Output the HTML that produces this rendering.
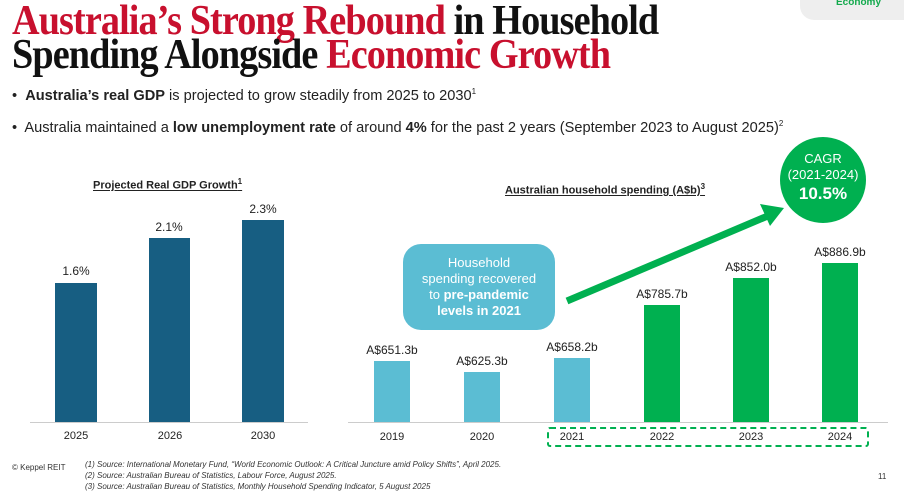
<!DOCTYPE html>
<html><head><meta charset="utf-8"><style>
body{margin:0;width:904px;height:498px;overflow:hidden;background:#fff;font-family:"Liberation Sans",sans-serif;position:relative}
.a{position:absolute;white-space:nowrap}
.t{font-family:"Liberation Serif",serif;font-size:42px;font-weight:bold;letter-spacing:-1px;color:#111;left:12px;line-height:36px;transform:scaleX(0.91);transform-origin:0 0}
.r{color:#c8102e}
.b{font-size:14.6px;color:#222;left:12px}
.lbl{font-size:12px;color:#222;text-align:center;width:80px}
.yr{font-size:11px;color:#222;text-align:center;width:60px}
sup{font-size:8px}
</style></head><body>
<div class="a" style="left:800px;top:0;width:104px;height:20px;background:#eee;border-bottom-left-radius:14px"></div>
<div class="a" style="left:836px;top:-3px;font-size:10px;color:#12a94c;font-weight:bold">Economy</div>
<div class="a t" style="top:3px"><span class="r">Australia’s Strong Rebound</span> in Household</div>
<div class="a t" style="top:37px">Spending Alongside <span class="r">Economic Growth</span></div>
<div class="a b" style="top:87px">•&nbsp; <b>Australia’s real GDP</b> is projected to grow steadily from 2025 to 2030<sup>1</sup></div>
<div class="a b" style="top:119px">•&nbsp; Australia maintained a <b>low unemployment rate</b> of around <b>4%</b> for the past 2 years (September 2023 to August 2025)<sup>2</sup></div>

<div class="a" style="left:93px;top:177px;font-size:11px;font-weight:bold;text-decoration:underline;color:#222">Projected Real GDP Growth<sup>1</sup></div>
<div class="a" style="left:30px;top:422px;width:278px;height:1px;background:#ccc"></div>
<div class="a" style="left:55px;top:283px;width:42px;height:139px;background:#175e82"></div>
<div class="a" style="left:149px;top:238px;width:41px;height:184px;background:#175e82"></div>
<div class="a" style="left:242px;top:220px;width:42px;height:202px;background:#175e82"></div>
<div class="a lbl" style="left:36px;top:264px">1.6%</div>
<div class="a lbl" style="left:129px;top:220px">2.1%</div>
<div class="a lbl" style="left:223px;top:202px">2.3%</div>
<div class="a yr" style="left:46px;top:430px">2025</div>
<div class="a yr" style="left:140px;top:430px">2026</div>
<div class="a yr" style="left:233px;top:430px">2030</div>

<div class="a" style="left:505px;top:182px;font-size:11px;font-weight:bold;text-decoration:underline;color:#222">Australian household spending (A$b)<sup>3</sup></div>
<div class="a" style="left:348px;top:422px;width:540px;height:1px;background:#ccc"></div>
<div class="a" style="left:374px;top:361px;width:36px;height:61px;background:#5bbdd3"></div>
<div class="a" style="left:464px;top:372px;width:36px;height:50px;background:#5bbdd3"></div>
<div class="a" style="left:554px;top:358px;width:36px;height:64px;background:#5bbdd3"></div>
<div class="a" style="left:644px;top:305px;width:36px;height:117px;background:#00b050"></div>
<div class="a" style="left:733px;top:278px;width:36px;height:144px;background:#00b050"></div>
<div class="a" style="left:822px;top:263px;width:36px;height:159px;background:#00b050"></div>
<div class="a lbl" style="left:352px;top:343px">A$651.3b</div>
<div class="a lbl" style="left:442px;top:354px">A$625.3b</div>
<div class="a lbl" style="left:532px;top:340px">A$658.2b</div>
<div class="a lbl" style="left:622px;top:287px">A$785.7b</div>
<div class="a lbl" style="left:711px;top:260px">A$852.0b</div>
<div class="a lbl" style="left:800px;top:245px">A$886.9b</div>
<div class="a yr" style="left:362px;top:431px">2019</div>
<div class="a yr" style="left:452px;top:431px">2020</div>
<div class="a yr" style="left:542px;top:431px">2021</div>
<div class="a yr" style="left:632px;top:431px">2022</div>
<div class="a yr" style="left:721px;top:431px">2023</div>
<div class="a yr" style="left:810px;top:431px">2024</div>
<div class="a" style="left:547px;top:427px;width:318px;height:16px;border:2px dashed #00b050;border-radius:3px"></div>

<div class="a" style="left:403px;top:244px;width:152px;height:86px;background:#5bbdd3;border-radius:18px;color:#fff;font-size:13px;text-align:center;line-height:16px;box-sizing:border-box;padding-top:11px">Household<br>spending recovered<br>to <b>pre-pandemic</b><br><b>levels in 2021</b></div>
<svg class="a" style="left:0;top:0" width="904" height="498"><line x1="567" y1="301" x2="770" y2="215" stroke="#00b050" stroke-width="7"/><polygon points="784,208 760,204 770,226" fill="#00b050"/></svg>
<div class="a" style="left:780px;top:137px;width:86px;height:86px;border-radius:50%;background:#00b050;color:#fff;text-align:center;font-size:13px;line-height:16px;box-sizing:border-box;padding-top:14px">CAGR<br>(2021-2024)<br><b style="font-size:17px;line-height:22px">10.5%</b></div>

<div class="a" style="left:12px;top:463px;font-size:8px;color:#333">© Keppel REIT</div>
<div class="a" style="left:85px;top:459px;font-size:8px;font-style:italic;color:#333;line-height:11px">(1) Source: International Monetary Fund, “World Economic Outlook: A Critical Juncture amid Policy Shifts”, April 2025.<br>(2) Source: Australian Bureau of Statistics, Labour Force, August 2025.<br>(3) Source: Australian Bureau of Statistics, Monthly Household Spending Indicator, 5 August 2025</div>
<div class="a" style="left:878px;top:472px;font-size:8px;color:#333">11</div>
</body></html>
